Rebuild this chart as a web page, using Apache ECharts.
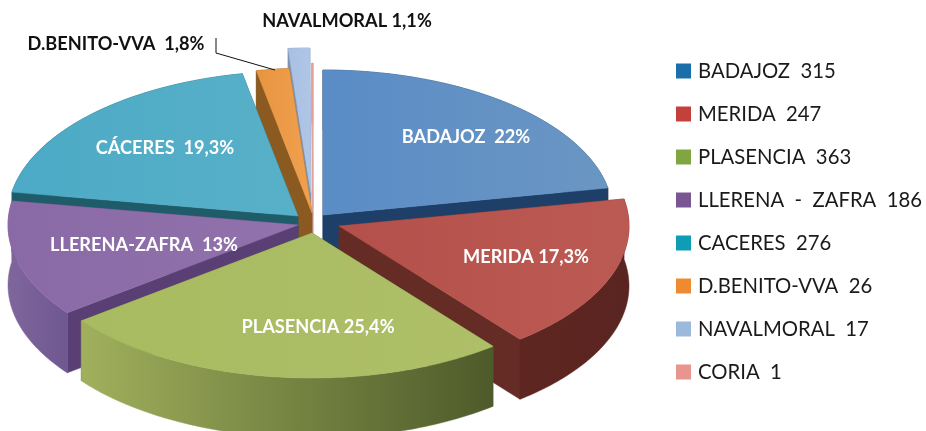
<!DOCTYPE html>
<html><head><meta charset="utf-8">
<style>html,body{margin:0;padding:0;background:#fff}#c{width:926px;height:431px}</style>
<script src="https://cdn.jsdelivr.net/npm/echarts@6/dist/echarts.min.js"></script>
</head><body><div id="c"></div>
<script>
// Data
const categories = ['BADAJOZ','MERIDA','PLASENCIA','LLERENA  -  ZAFRA','CACERES','D.BENITO-VVA','NAVALMORAL','CORIA'];
const values = [315,247,363,186,276,26,17,1];
const sliceLabels = ['BADAJOZ  22%','MERIDA 17,3%','PLASENCIA 25,4%','LLERENA-ZAFRA  13%','CÁCERES  19,3%','D.BENITO-VVA  1,8%','NAVALMORAL 1,1%',''];

// Layout and style of the tilted, exploded pie
const RX = 290, RY = 145, DEPTH = 60;
const anchors = [[323,215],[339,226],[312,233],[298,225],[298,216],[312,213],[311,193],[313,208]];
const labelAt = [[466,137],[526,257],[318,327],[144,245],[165,148],[116,44],[347,21],[0,0]];
const labelFill = ['#fff','#fff','#fff','#fff','#fff','#111','#111','#fff'];
const legendColors = ['#1b6fa9','#c4403c','#80a644','#7b5695','#0e9db4','#ee8a30','#9db8dd','#e8958f'];
const topColors = [['#5a8cc6','#6a96c2'],['#b4504b','#bb5a52'],['#a8bb60','#aebf68'],['#8a6aa6','#9272ac'],['#4caac6','#58b0c8'],['#e8953f','#f0a050'],['#a8c0e4','#b0c6e6'],['#eaa09a','#eaa09a']];
const edgeColors = ['#1d3f68','#652c26','#5f7030','#5a3f74','#1f5c6a','#8a5a20','#7f93ad','#c99'];
const arcColors = [['#1d3f68','#1d3f68'],['#5e2620','#5a2420'],['#a0b05c','#4e5a2a'],['#7f669c','#6f5790'],['#1f5c6a','#1f5c6a'],['#8a5a20','#8a5a20'],['#7f93ad','#7f93ad'],['#c99','#c99']];
const drawOrder = [6,7,5,4,0,3,1,2];

const total = values.reduce((a,b)=>a+b,0);
let acc = 0;
const spans = values.map(v => { const s = acc/total*Math.PI*2; acc += v; return [s, acc/total*Math.PI*2]; });

function pt(i,t,dz){ const a = anchors[i]; return [a[0]+RX*Math.sin(t), a[1]-RY*Math.cos(t)+(dz||0)]; }
function arc(i,dz){
  const [s,e] = spans[i], n = Math.max(2,Math.ceil((e-s)/0.015)), out=[];
  for(let k=0;k<=n;k++) out.push(pt(i,s+(e-s)*k/n,dz));
  return out;
}
function grad(c){ return {type:'linear',x:0,y:0,x2:1,y2:0,colorStops:[{offset:0,color:c[0]},{offset:1,color:c[1]}]}; }
function poly(points,fill){ return {type:'polygon',shape:{points},style:{fill,stroke:fill,lineWidth:0.5}}; }

function renderSlice(i){
  const a = anchors[i], [s,e] = spans[i];
  const low = [a[0],a[1]+DEPTH];
  const top = arc(i,0), bot = arc(i,DEPTH);
  const kids = [
    poly([a,pt(i,s),pt(i,s,DEPTH),low],edgeColors[i]),
    poly([a,pt(i,e),pt(i,e,DEPTH),low],edgeColors[i]),
    poly(top.concat(bot.slice().reverse()),grad(arcColors[i])),
    poly([a].concat(top),grad(topColors[i]))
  ];
  if(sliceLabels[i]) kids.push({type:'text',z2:50,style:{text:sliceLabels[i],x:labelAt[i][0],y:labelAt[i][1],
    fill:labelFill[i],font:'bold 18.2px Lato, "Open Sans", sans-serif',align:'center',verticalAlign:'middle'}});
  return {type:'group',children:kids};
}

const chart = echarts.init(document.getElementById('c'),null,{renderer:'canvas'});
chart.setOption({
  animation:false,
  backgroundColor:'#fff',
  legend:{
    orient:'vertical',left:671,top:52,itemWidth:15,itemHeight:15,itemGap:15,icon:'rect',selectedMode:false,
    textStyle:{fontFamily:'Lato, "Open Sans", sans-serif',fontSize:20.3,color:'#1a1a1a',lineHeight:24,padding:[4,0,0,2]},
    data:categories.map((c,i)=>({name:c,itemStyle:{color:legendColors[i]}})),
    formatter:n=>n+'  '+values[categories.indexOf(n)]
  },
  graphic:[{type:'polyline',z:200,shape:{points:[[216,38],[216,53],[275,70]]},style:{stroke:'#111',lineWidth:1,fill:null}}],
  series:drawOrder.map((i,o)=>({
    type:'custom',name:categories[i],coordinateSystem:'none',silent:true,z:2+o,
    itemStyle:{color:legendColors[i]},
    data:[values[i]],
    renderItem:()=>renderSlice(i)
  }))
});
</script></body></html>
